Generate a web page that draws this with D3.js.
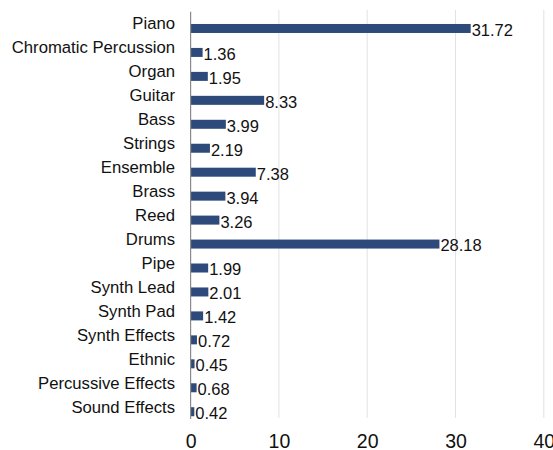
<!DOCTYPE html>
<html>
<head>
<meta charset="utf-8">
<script src="https://cdn.jsdelivr.net/npm/d3@7/dist/d3.min.js"></script>
<style>
  html, body { margin: 0; padding: 0; background: #fff; }
  svg { display: block; font-family: "Liberation Sans", Arial, Helvetica, sans-serif; }
</style>
</head>
<body>
<svg id="chart" width="553" height="450"></svg>
<script>
// Instrument families and their share (%)
const categories = [
  "Piano", "Chromatic Percussion", "Organ", "Guitar", "Bass", "Strings",
  "Ensemble", "Brass", "Reed", "Drums", "Pipe", "Synth Lead", "Synth Pad",
  "Synth Effects", "Ethnic", "Percussive Effects", "Sound Effects"
];
const values = [
  31.72, 1.36, 1.95, 8.33, 3.99, 2.19,
  7.38, 3.94, 3.26, 28.18, 1.99, 2.01, 1.42,
  0.72, 0.45, 0.68, 0.42
];
const xTicks = [0, 10, 20, 30, 40];

const data = categories.map((c, i) => ({ name: c, value: values[i] }));

const svg = d3.select("#chart");

const x = d3.scaleLinear().domain([0, 40]).range([190.6, 543.8]);
const y = d3.scaleBand().domain(categories).range([12, 419.2]).paddingInner(0).paddingOuter(0);
const step = y.step();
const barH = 9;

// vertical gridlines
svg.append("g")
  .selectAll("line")
  .data(xTicks.filter(t => t > 0))
  .join("line")
  .attr("x1", d => x(d)).attr("x2", d => x(d))
  .attr("y1", 10).attr("y2", 418)
  .attr("stroke", "#e2e2e2")
  .attr("stroke-width", 1);

// bars
svg.append("g")
  .selectAll("rect")
  .data(data)
  .join("rect")
  .attr("x", x(0))
  .attr("y", d => y(d.name) + step / 2)
  .attr("width", d => x(d.value) - x(0))
  .attr("height", barH)
  .attr("fill", "#2d4a7b");

// value labels
svg.append("g")
  .selectAll("text")
  .data(data)
  .join("text")
  .attr("x", d => x(d.value) + 1)
  .attr("y", d => y(d.name) + step / 2 + barH / 2 + 7.4)
  .attr("font-size", 16.5)
  .attr("fill", "#111")
  .text(d => d.value.toFixed(2));

// category axis line
svg.append("line")
  .attr("x1", x(0)).attr("x2", x(0))
  .attr("y1", 11.7).attr("y2", 419)
  .attr("stroke", "#8a8a8a")
  .attr("stroke-width", 1.2);

// category labels
svg.append("g")
  .selectAll("text")
  .data(categories)
  .join("text")
  .attr("x", 175)
  .attr("y", d => y(d) + step / 2 + 5.5)
  .attr("text-anchor", "end")
  .attr("font-size", 16.7)
  .attr("fill", "#111")
  .text(d => d);

// value axis tick labels
const xAxis = d3.axisBottom(x).tickValues(xTicks).tickSize(0).tickPadding(0).tickFormat(d3.format("d"));
const gx = svg.append("g").attr("transform", "translate(0,433)").call(xAxis);
gx.select(".domain").remove();
gx.selectAll("text")
  .attr("font-size", 19.5)
  .attr("font-family", "Liberation Sans, Arial, sans-serif")
  .attr("fill", "#111")
  .attr("dy", 0)
  .attr("y", 14.5);
</script>
</body>
</html>
